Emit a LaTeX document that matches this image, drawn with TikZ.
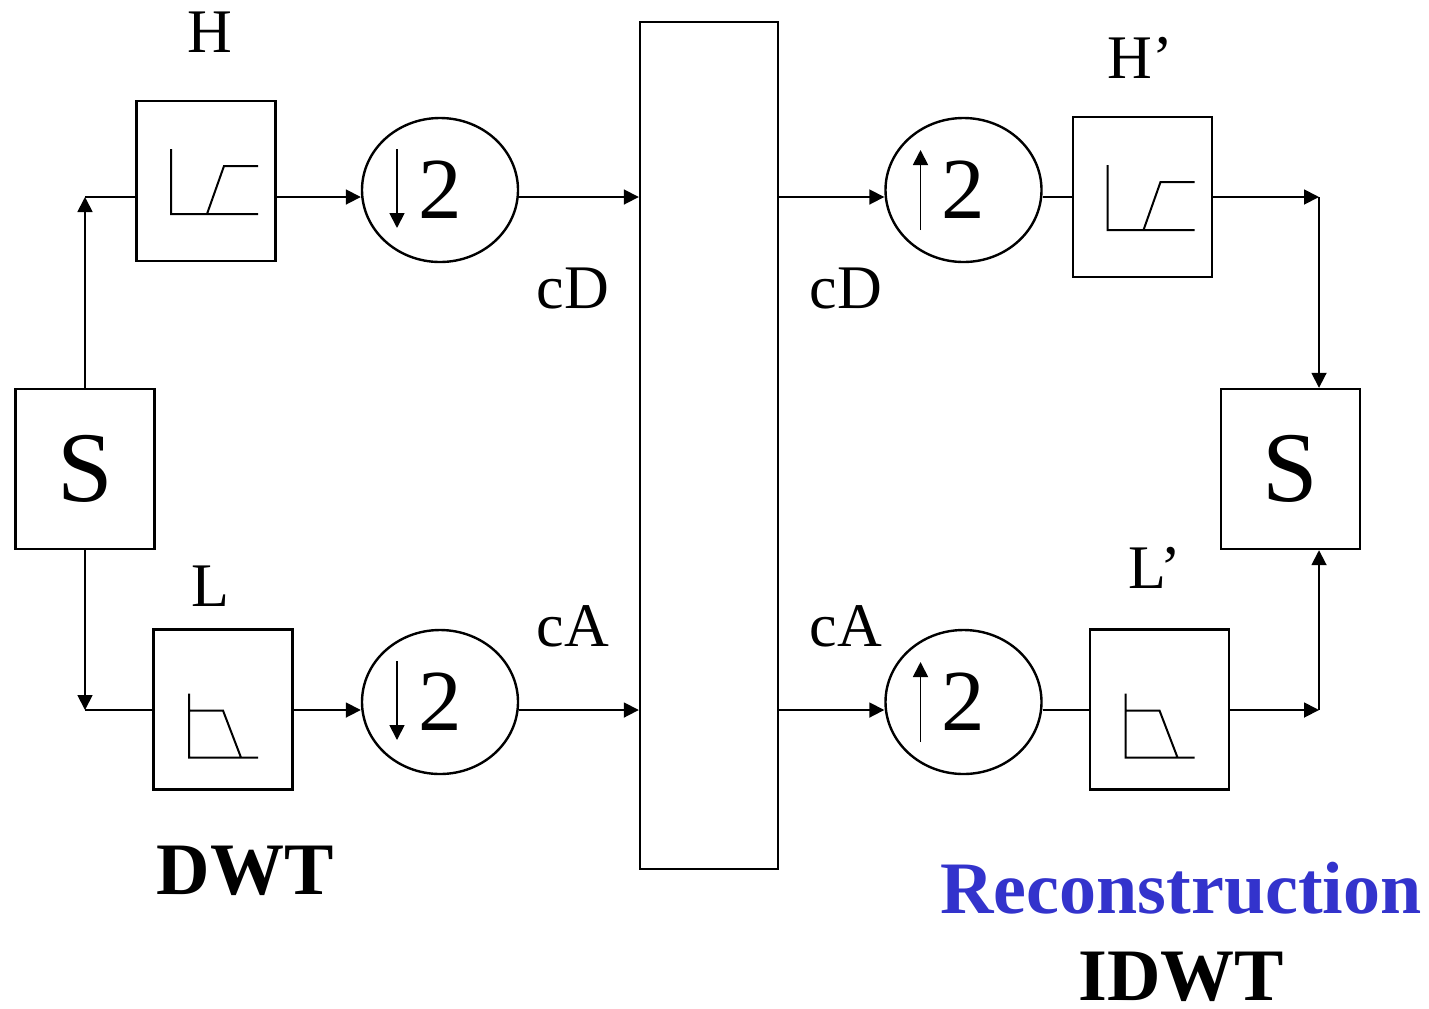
\documentclass[tikz,border=0pt]{standalone}
\usepackage{fontspec}
\setmainfont{Liberation Serif}
\usetikzlibrary{arrows.meta,shapes.geometric,calc}
\definecolor{recblue}{RGB}{51,51,204}
\tikzset{blk/.style={draw,line width=1.2pt,minimum width=69.5pt,minimum height=80pt,inner sep=0pt},
smp/.style={draw,ellipse,line width=1.2pt,minimum width=78pt,minimum height=72pt,inner sep=0pt,font=\fontsize{43.5}{44}\selectfont},
lbl/.style={font=\fontsize{31}{32}\selectfont},
ttl/.style={font=\fontsize{37}{38}\selectfont\bfseries},
arr/.style={-{Triangle[length=7.5pt,width=7.5pt]}}}
\begin{document}
\begin{tikzpicture}[x=.5pt,y=-.5pt,line width=.9pt]
\useasboundingbox (0,0) rectangle (1429,1008);
% analysis side
\node[blk,font=\fontsize{50}{50}\selectfont] (s1) at (85,469){S};
\node[blk] (h) at (206,181){};\node[blk] (l) at (223,709.5){};
\node[smp] (d1) at (440,190){2};\node[smp] (d2) at (440,702){2};
\node[draw,line width=1.2pt,minimum width=69pt,minimum height=423.5pt] (mid) at (709,445.5){};
% synthesis side
\node[smp] (u1) at (963.5,190){2};\node[smp] (u2) at (963.5,702){2};
\node[blk] (hp) at (1142.5,197){};\node[blk] (lp) at (1159.5,709.5){};
\node[blk,font=\fontsize{50}{50}\selectfont] (s2) at (1290.5,469){S};
% filter curves and rate arrows
\foreach \n in {h,hp}\draw[shift={(\n.center)},line width=1pt] (-35,-32)--(-35,33)--(52,33) (1,33)--(18,-15)--(52,-15);
\foreach \n in {l,lp}\draw[shift={(\n.center)},line width=1pt] (-34,-16)--(-34,48)--(35,48) (-34,1)--(0,1)--(18,48);
\foreach \n in {d1,d2}\draw[arr] ([shift={(-43,-41)}]\n.center)--([shift={(-43,38)}]\n.center);
\foreach \n in {u1,u2}\draw[arr] ([shift={(-43,40)}]\n.center)--([shift={(-43,-40)}]\n.center);
% connectors
\coordinate (t) at (0,197);\coordinate (b) at (0,710);
\coordinate (l1) at (85,197);\coordinate (l2) at (85,710);\coordinate (r1) at (1319,197);\coordinate (r2) at (1319,710);
\draw[arr] (s1.north)--(l1);\draw (l1)--(h.west|-t);
\draw[arr] (s1.south)--(l2);\draw (l2)--(l.west|-b);
\foreach \p/\q/\w in {h/d1/t,d1/mid/t,l/d2/b,d2/mid/b,mid/u1/t,mid/u2/b}\draw[arr] (\p.east|-\w)--(\q.west|-\w);
\foreach \p/\q/\w in {u1/hp/t,u2/lp/b}\draw (\p.east|-\w)--(\q.west|-\w);
\draw[arr] (hp.east|-t)--(r1);\draw[arr] (r1)--(s2.north-|r1);
\draw[arr] (lp.east|-b)--(r2);\draw[arr] (r2)--(s2.south-|r2);
% labels
\node[lbl] (hl) at (210,32){H};\node[lbl] (ll) at (210,586){L};
\node[lbl] (hpl) at (1140,58){H’};\node[lbl] (lpl) at (1155,568){L’};
\node[lbl] (cd1) at (573,288){cD};\node[lbl] (ca1) at (573,626){cA};
\node[lbl] (cd2) at (846,288){cD};\node[lbl] (ca2) at (846,626){cA};
\node[ttl] (dwt) at (245,871){DWT};
\node[ttl,text=recblue] (rec) at (1181,888){Reconstruction};
\node[ttl] (idwt) at (1181,977){IDWT};
\end{tikzpicture}
\end{document}
